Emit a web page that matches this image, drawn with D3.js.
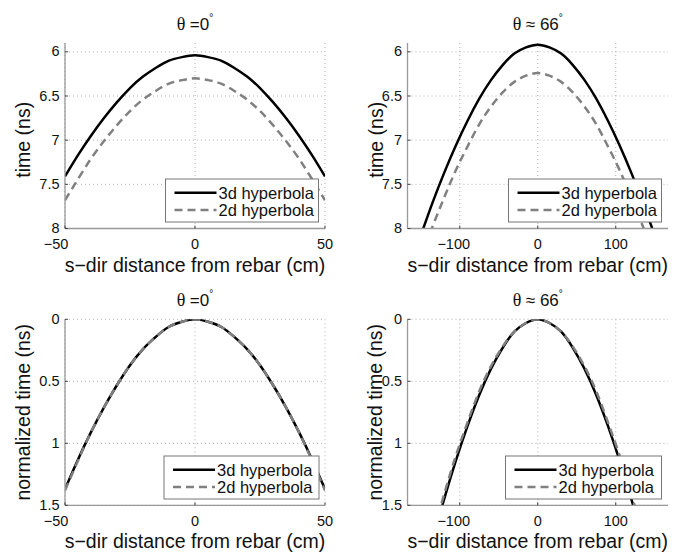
<!DOCTYPE html>
<html>
<head>
<meta charset="utf-8">
<script src="https://cdn.jsdelivr.net/npm/d3@7"></script>
<style>
  body { margin: 0; background: #fff; }
  svg { display: block; font-family: "Liberation Sans", Arial, Helvetica, sans-serif; }
</style>
</head>
<body>
<svg id="svg1" width="673" height="556"></svg>
<script>
// offsets along the rebar (cm)
var xsNarrow = [-50,-45,-40,-35,-30,-25,-20,-15,-10,-5,0,5,10,15,20,25,30,35,40,45,50];
var xsWide = [-150,-135,-120,-105,-90,-75,-60,-45,-30,-15,0,15,30,45,60,75,90,105,120,135,150];

// theta = 0, two-way time (ns)
var time3d_0 = [7.41,7.17,6.95,6.75,6.57,6.41,6.28,6.18,6.10,6.06,6.04,6.06,6.10,6.18,6.28,6.41,6.57,6.75,6.95,7.17,7.41];
var time2d_0 = [7.68,7.44,7.21,7.01,6.83,6.67,6.54,6.44,6.36,6.32,6.30,6.32,6.36,6.44,6.54,6.67,6.83,7.01,7.21,7.44,7.68];
// theta ~ 66
var time3d_66 = [8.08,7.71,7.37,7.06,6.78,6.53,6.32,6.15,6.02,5.95,5.92,5.95,6.02,6.15,6.32,6.53,6.78,7.06,7.37,7.71,8.08];
var time2d_66 = [8.33,7.98,7.65,7.34,7.07,6.82,6.62,6.46,6.34,6.27,6.24,6.27,6.34,6.46,6.62,6.82,7.07,7.34,7.65,7.98,8.33];

// normalized time (ns)
var norm3d_0 = [1.37,1.13,0.91,0.71,0.53,0.37,0.24,0.14,0.06,0.02,0,0.02,0.06,0.14,0.24,0.37,0.53,0.71,0.91,1.13,1.37];
var norm2d_0 = [1.38,1.14,0.91,0.71,0.53,0.37,0.24,0.14,0.06,0.02,0,0.02,0.06,0.14,0.24,0.37,0.53,0.71,0.91,1.14,1.38];
var norm3d_66 = [2.16,1.79,1.45,1.14,0.86,0.61,0.40,0.23,0.10,0.03,0,0.03,0.10,0.23,0.40,0.61,0.86,1.14,1.45,1.79,2.16];
var norm2d_66 = [2.09,1.74,1.41,1.10,0.83,0.58,0.38,0.22,0.10,0.03,0,0.03,0.10,0.22,0.38,0.58,0.83,1.10,1.41,1.74,2.09];

var xTicksNarrow = [-50,0,50];
var xTicksWide = [-100,0,100];
var yTicksTime = [6,6.5,7,7.5,8];
var yTicksNorm = [0,0.5,1,1.5];

var legendLabels = ['3d hyperbola','2d hyperbola'];

// negShift: how far negative x tick labels sit left of their tick in the original
var panels = [
  {x:[65,325], y:[43,228.5], xd:[-50,50], yd:[5.9,8], xt:xTicksNarrow, yt:yTicksTime, negShift:-9,
   angle:'=0', ylab:'time (ns)', ylabX:30, ylabDy:4, xs:xsNarrow, s3:time3d_0, s2:time2d_0,
   leg:{x:165.5, y:179, w:153}},
  {x:[407.5,668], y:[43,228.5], xd:[-167,167], yd:[5.9,8], xt:xTicksWide, yt:yTicksTime, negShift:-6,
   angle:'\u2248 66', ylab:'time (ns)', ylabX:383, ylabDy:4, xs:xsWide, s3:time3d_66, s2:time2d_66,
   leg:{x:508.5, y:179, w:153}},
  {x:[65,325], y:[319.3,505.3], xd:[-50,50], yd:[0,1.5], xt:xTicksNarrow, yt:yTicksNorm, negShift:-9,
   angle:'=0', ylab:'normalized time (ns)', ylabX:30, ylabDy:0, xs:xsNarrow, s3:norm3d_0, s2:norm2d_0,
   leg:{x:164, y:456, w:155}},
  {x:[407.5,668], y:[319.3,505.3], xd:[-167,167], yd:[0,1.5], xt:xTicksWide, yt:yTicksNorm, negShift:-6,
   angle:'\u2248 66', ylab:'normalized time (ns)', ylabX:382, ylabDy:0, xs:xsWide, s3:norm3d_66, s2:norm2d_66,
   leg:{x:505.5, y:456, w:156}}
];

var svg = d3.select('#svg1');
svg.append('rect').attr('width',673).attr('height',556).attr('fill','#fff');

function fmt(v){ return (v < 0 ? '\u2212' : '') + Math.abs(v); }

panels.forEach(function(p, i){
  var x = d3.scaleLinear().domain(p.xd).range(p.x);
  var y = d3.scaleLinear().domain(p.yd).range(p.y);   // reversed: small at top
  var g = svg.append('g');

  var clipId = 'clip' + i;
  svg.append('clipPath').attr('id', clipId).append('rect')
      .attr('x', p.x[0]).attr('y', p.y[0])
      .attr('width', p.x[1]-p.x[0]).attr('height', p.y[1]-p.y[0]);

  // grid
  g.selectAll('line.gx').data(p.xt).enter().append('line')
      .attr('x1', function(d){return x(d);}).attr('x2', function(d){return x(d);})
      .attr('y1', p.y[0]).attr('y2', p.y[1])
      .attr('stroke','#b0b0b0').attr('stroke-width',1).attr('stroke-dasharray','1,3');
  g.selectAll('line.gy').data(p.yt).enter().append('line')
      .attr('y1', function(d){return y(d);}).attr('y2', function(d){return y(d);})
      .attr('x1', p.x[0]).attr('x2', p.x[1])
      .attr('stroke','#b0b0b0').attr('stroke-width',1).attr('stroke-dasharray','1,3');

  // curves
  var line = d3.line()
      .x(function(d){return x(d[0]);})
      .y(function(d){return y(d[1]);})
      .curve(d3.curveNatural);
  var curves = g.append('g').attr('clip-path','url(#' + clipId + ')');
  curves.append('path').datum(d3.zip(p.xs, p.s3))
      .attr('d', line).attr('fill','none')
      .attr('stroke','#000').attr('stroke-width',2.5);
  curves.append('path').datum(d3.zip(p.xs, p.s2))
      .attr('d', line).attr('fill','none')
      .attr('stroke','#808080').attr('stroke-width',2.5).attr('stroke-dasharray','8,5');

  // axis lines
  g.append('line').attr('x1',p.x[0]).attr('x2',p.x[0]).attr('y1',p.y[0]).attr('y2',p.y[1])
      .attr('stroke','#999').attr('stroke-width',1.3);
  g.append('line').attr('x1',p.x[0]).attr('x2',p.x[1]).attr('y1',p.y[1]).attr('y2',p.y[1])
      .attr('stroke','#999').attr('stroke-width',1.3);

  // ticks (inward)
  g.selectAll('line.tx').data(p.xt).enter().append('line')
      .attr('x1', function(d){return x(d);}).attr('x2', function(d){return x(d);})
      .attr('y1', p.y[1]).attr('y2', p.y[1]-3)
      .attr('stroke','#444').attr('stroke-width',1);
  g.selectAll('line.ty').data(p.yt).enter().append('line')
      .attr('y1', function(d){return y(d);}).attr('y2', function(d){return y(d);})
      .attr('x1', p.x[0]).attr('x2', p.x[0]+3)
      .attr('stroke','#444').attr('stroke-width',1);

  // tick labels
  g.selectAll('text.tx').data(p.xt).enter().append('text')
      .attr('x', function(d){return x(d) + (d < 0 ? p.negShift : 0);}).attr('y', p.y[1]+20.5)
      .attr('text-anchor','middle').attr('font-size',14.5).attr('fill','#111')
      .text(fmt);
  g.selectAll('text.ty').data(p.yt).enter().append('text')
      .attr('x', p.x[0]-5.5).attr('y', function(d){return y(d)+4.5;})
      .attr('text-anchor','end').attr('font-size',14.5).attr('fill','#111')
      .text(fmt);

  // axis labels
  g.append('text')
      .attr('x', (p.x[0]+p.x[1])/2).attr('y', p.y[1]+43)
      .attr('text-anchor','middle').attr('font-size',19.5).attr('fill','#111')
      .text('s\u2212dir distance from rebar (cm)');
  g.append('text')
      .attr('transform','translate(' + p.ylabX + ',' + ((p.y[0]+p.y[1])/2 + p.ylabDy) + ') rotate(-90)')
      .attr('text-anchor','middle').attr('font-size',19.5).attr('fill','#111')
      .text(p.ylab);

  // title
  var t = g.append('text')
      .attr('x', (p.x[0]+p.x[1])/2).attr('y', p.y[0]-13)
      .attr('text-anchor','middle').attr('font-size',17).attr('fill','#111');
  t.append('tspan').attr('font-family','"Liberation Serif", "Times New Roman", serif').attr('font-size',18).text('\u03b8 ');
  t.append('tspan').text(p.angle);
  t.append('tspan').attr('font-size',10).attr('dy',-9).text('\u00b0');

  // legend
  var L = p.leg;
  var lg = g.append('g').attr('transform','translate(' + L.x + ',' + L.y + ')');
  lg.append('rect').attr('width', L.w).attr('height', 43)
      .attr('fill','#fff').attr('stroke','#777').attr('stroke-width',1);
  var rows = lg.selectAll('g.row').data(legendLabels).enter().append('g')
      .attr('transform', function(d, k){ return 'translate(0,' + (13.7 + k*17.3) + ')'; });
  rows.append('line').attr('x1',9).attr('x2',51).attr('y1',0).attr('y2',0)
      .attr('stroke', function(d,k){ return k === 0 ? '#000' : '#808080'; })
      .attr('stroke-width',2.5)
      .attr('stroke-dasharray', function(d,k){ return k === 0 ? null : '8,5'; });
  rows.append('text').attr('x',53).attr('y',5.8)
      .attr('font-size',16.5).attr('fill','#111')
      .text(function(d){return d;});
});
</script>
</body>
</html>
